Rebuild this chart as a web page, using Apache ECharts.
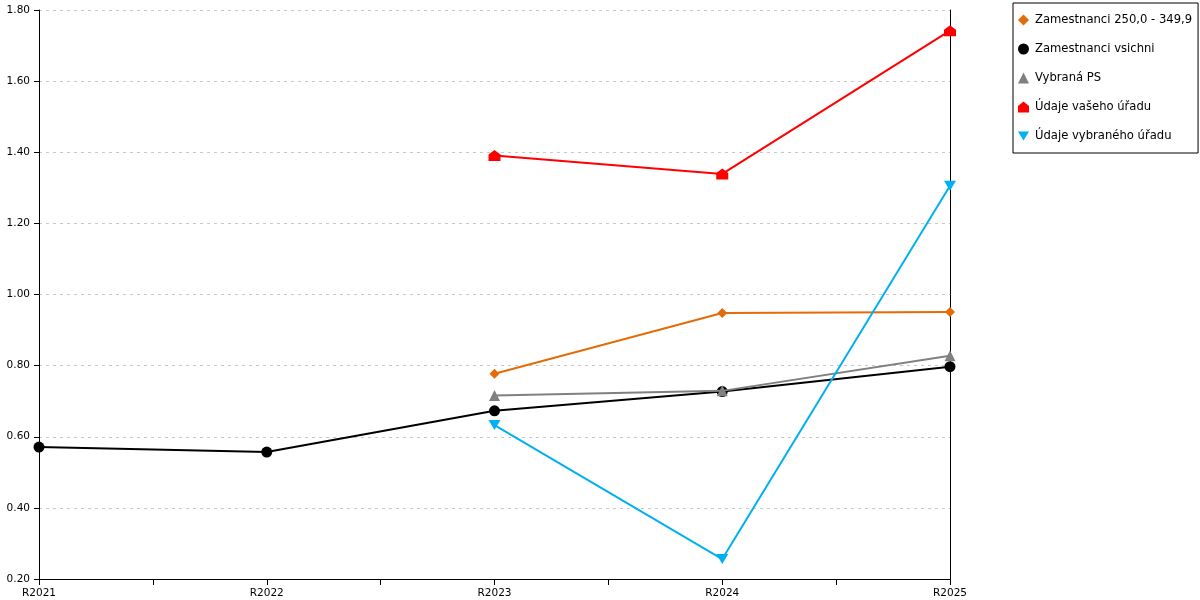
<!DOCTYPE html>
<html><head><meta charset="utf-8">
<script src="https://cdn.jsdelivr.net/npm/echarts@6/dist/echarts.min.js"></script>
<style>html,body{margin:0;padding:0;background:#fff}#c{width:1200px;height:600px}</style>
</head><body><div id="c"></div>
<script>
const categories = ['R2021','R2022','R2023','R2024','R2025'];
const seriesNames = ['Zamestnanci 250,0 - 349,9','Zamestnanci vsichni','Vybraná PS','Údaje vašeho úřadu','Údaje vybraného úřadu'];
const zam250 = [null, null, 0.777, 0.948, 0.951];
const zamVsichni = [0.571, 0.557, 0.673, 0.727, 0.797];
const vybranaPS = [null, null, 0.716, 0.729, 0.828];
const vasUrad = [null, null, 1.391, 1.339, 1.742];
const vybranyUrad = [null, null, 0.633, 0.256, 1.306];
const yTicks = [0.2, 1.8, 0.2]; // min, max, step

const colors = ['#E36C09','#000000','#808080','#FF0000','#00B0F0'];
const HOUSE = 'path://M0,0 L6,-5 L12,0 L12,7 L0,7 Z';
const DOWN = 'path://M0,0 L12,0 L6,10 Z';
const symbols = ['diamond','circle','triangle',HOUSE,DOWN];
const sizes = [10,11,11,[12,11],[12,10]];
const values = [zam250, zamVsichni, vybranaPS, vasUrad, vybranyUrad];
const font = 'DejaVu Sans, Verdana, sans-serif';

const chart = echarts.init(document.getElementById('c'));
chart.setOption({
  animation:false,
  backgroundColor:'#fff',
  grid:{left:39,right:250,top:10,bottom:21,containLabel:false},
  legend:{
    orient:'vertical', left:1013, top:3,
    padding:[11,6,11,5],
    borderColor:'#000', borderWidth:1,
    itemWidth:11, itemHeight:11, itemGap:17,
    textStyle:{fontFamily:font,fontSize:11.6,color:'#000',padding:[0,0,0,1]},
    data: seriesNames.map((n,i)=>({name:n,icon:symbols[i],itemStyle:{color:colors[i]}}))
  },
  xAxis:[{
    type:'category', data:categories, boundaryGap:false,
    axisLine:{lineStyle:{color:'#000',width:1}},
    axisTick:{show:false},
    axisLabel:{fontFamily:font,fontSize:10.5,color:'#000',margin:9,interval:0},
    splitLine:{show:false}
  },{
    type:'value', min:0, max:categories.length-1, interval:0.5, position:'bottom',
    axisLine:{show:false},
    axisTick:{show:true,length:6,lineStyle:{color:'#000'}},
    axisLabel:{show:false}, splitLine:{show:false}
  }],
  yAxis:[{
    type:'value', min:yTicks[0], max:yTicks[1], interval:yTicks[2],
    axisLine:{show:true,lineStyle:{color:'#000',width:1}},
    axisTick:{show:true,length:5,lineStyle:{color:'#000'}},
    axisLabel:{fontFamily:font,fontSize:10.5,color:'#000',margin:9,formatter:v=>v.toFixed(2)},
    splitLine:{show:true,lineStyle:{color:'#c8c8c8',type:[3,4],width:1}}
  },{
    type:'value', min:yTicks[0], max:yTicks[1], position:'right',
    axisLine:{show:true,lineStyle:{color:'#000',width:1}},
    axisTick:{show:false}, axisLabel:{show:false}, splitLine:{show:false}
  }],
  series: values.map((vals,i)=>({
    name:seriesNames[i], type:'line', xAxisIndex:0, yAxisIndex:0,
    data:vals, connectNulls:false,
    symbol:symbols[i], symbolSize:sizes[i], showAllSymbol:true,
    lineStyle:{color:colors[i],width:2},
    itemStyle:{color:colors[i]},
    z:2+i
  }))
});
</script></body></html>
